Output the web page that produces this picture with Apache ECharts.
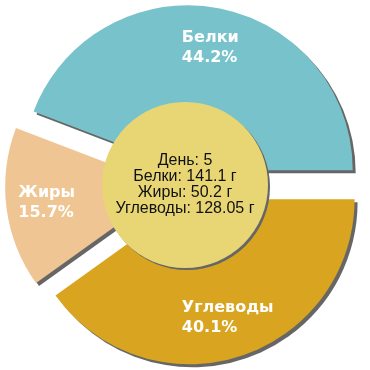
<!DOCTYPE html>
<html><head><meta charset="utf-8">
<script src="https://cdn.jsdelivr.net/npm/echarts@6/dist/echarts.min.js"></script>
<style>html,body{margin:0;padding:0;background:#fff}#c{width:370px;height:370px}</style>
</head><body><div id="c"></div>
<script>
var categories = ['Белки', 'Жиры', 'Углеводы'];
var percents = [44.2, 15.7, 40.1];
var grams = [141.1, 50.2, 128.05];
var dayLabel = 'День';
var dayNumber = 5;
var colors = ['#78c3cb', '#efc693', '#d9a521'];
var centerColor = '#e8d675';

var pieData = categories.map(function (c, i) {
  return { name: c, value: percents[i], selected: true, itemStyle: { color: colors[i] } };
});
var labelData = categories.map(function (c, i) {
  return { name: c, value: percents[i], selected: true };
});
var centerText = [dayLabel + ': ' + dayNumber].concat(categories.map(function (c, i) {
  return c + ': ' + grams[i] + ' г';
})).join('\n');

var chart = echarts.init(document.getElementById('c'), null, { renderer: 'canvas' });
chart.setOption({
  animation: false,
  series: [
    {
      type: 'pie', center: [185, 185], radius: 165, startAngle: 0, clockwise: false,
      selectedMode: 'multiple', selectedOffset: 15, silent: true,
      label: { show: false }, labelLine: { show: false },
      itemStyle: { shadowColor: '#666', shadowOffsetX: 3, shadowOffsetY: 3, shadowBlur: 0 },
      emphasis: { disabled: true },
      data: pieData
    },
    {
      type: 'pie', center: [185, 185], radius: [78, 165], startAngle: 0, clockwise: false,
      selectedMode: 'multiple', selectedOffset: 15, silent: true, z: 4,
      itemStyle: { color: 'rgba(0,0,0,0)' },
      emphasis: { disabled: true },
      label: {
        show: true, position: 'inside', overflow: 'none',
        formatter: function (p) { return '{a|' + p.name + '}\n{a|' + p.value + '%}'; },
        rich: {
          a: { align: 'left', color: '#fff', fontFamily: 'DejaVu Sans', fontWeight: 'bold', fontSize: 16, lineHeight: 20 }
        }
      },
      labelLine: { show: false },
      data: labelData
    },
    {
      type: 'pie', center: [185, 185], radius: 83, silent: true, z: 3,
      emphasis: { disabled: true },
      itemStyle: { color: centerColor, shadowColor: '#666', shadowOffsetX: 2, shadowOffsetY: 2, shadowBlur: 0 },
      label: {
        show: true, position: 'center', color: '#111', fontFamily: 'Liberation Sans',
        fontSize: 16, lineHeight: 16, formatter: centerText
      },
      labelLine: { show: false },
      data: [{ name: 'center', value: 1 }]
    }
  ]
});
</script></body></html>
